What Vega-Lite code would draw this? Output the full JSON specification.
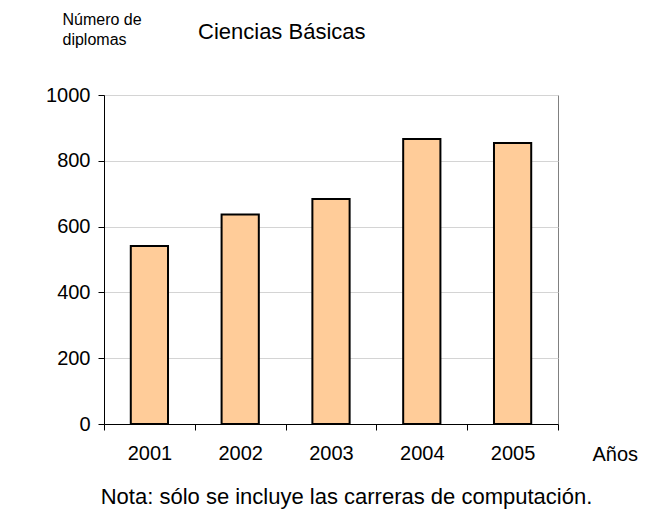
{
  "$schema": "https://vega.github.io/schema/vega-lite/v6.json",
  "width": 454,
  "height": 329,
  "autosize": "none",
  "padding": {"left": 104, "top": 95, "right": 94, "bottom": 86},
  "background": "white",
  "config": {
    "font": "Liberation Sans",
    "view": {"stroke": "#808080", "strokeWidth": 1}
  },
  "title": {
    "text": "Ciencias Básicas",
    "anchor": "start",
    "frame": "group",
    "dx": 94,
    "offset": 0,
    "dy": 50,
    "baseline": "alphabetic",
    "fontSize": 22,
    "fontWeight": "normal",
    "color": "#000000",
    "font": "Liberation Sans"
  },
  "data": {
    "values": [
      {"anio": "2001", "diplomas": 541},
      {"anio": "2002", "diplomas": 637},
      {"anio": "2003", "diplomas": 684},
      {"anio": "2004", "diplomas": 866},
      {"anio": "2005", "diplomas": 854}
    ]
  },
  "resolve": {"axis": {"y": "independent"}},
  "layer": [
    {
      "mark": {"type": "bar", "fill": "#FFCC99", "stroke": "#000000", "strokeWidth": 2, "width": {"band": 0.41}},
      "encoding": {
        "x": {
          "field": "anio",
          "type": "ordinal",
          "scale": {"paddingInner": 0, "paddingOuter": 0},
          "axis": {
            "title": "Nota: sólo se incluye las carreras de computación.",
            "titleFontSize": 22,
            "titleFontWeight": "normal",
            "titleColor": "#000000",
            "titleX": 242,
            "titleY": 79,
            "titleAlign": "center",
            "titleBaseline": "alphabetic",
            "labelAngle": 0,
            "labelFontSize": 20,
            "labelColor": "#000000",
            "labelPadding": 13,
            "tickBand": "extent",
            "tickSize": 6,
            "tickColor": "#000000",
            "domainColor": "#000000",
            "grid": false
          }
        },
        "y": {
          "field": "diplomas",
          "type": "quantitative",
          "scale": {"domain": [0, 1000], "nice": false},
          "axis": {
            "values": [0, 200, 400, 600, 800, 1000],
            "format": "d",
            "title": ["Número de", "diplomas"],
            "titleAngle": 0,
            "titleAlign": "left",
            "titleBaseline": "alphabetic",
            "titleX": -42,
            "titleY": -71,
            "titleFontSize": 16,
            "titleFontWeight": "normal",
            "titleColor": "#000000",
            "titleLineHeight": 20,
            "labelFontSize": 20,
            "labelColor": "#000000",
            "labelPadding": 8,
            "tickSize": 6,
            "tickColor": "#000000",
            "domainColor": "#000000",
            "grid": true,
            "gridColor": "#d4d4d4"
          }
        }
      }
    },
    {
      "mark": {"type": "bar", "opacity": 0, "width": {"band": 0.41}},
      "encoding": {
        "x": {"field": "anio", "type": "ordinal"},
        "y": {
          "field": "diplomas",
          "type": "quantitative",
          "axis": {
            "orient": "right",
            "title": "Años",
            "titleAngle": 0,
            "titleAlign": "left",
            "titleBaseline": "alphabetic",
            "titleX": 34,
            "titleY": 365,
            "titleFontSize": 20,
            "titleFontWeight": "normal",
            "titleColor": "#000000",
            "labels": false,
            "ticks": false,
            "domain": false,
            "grid": false
          }
        }
      }
    }
  ]
}
